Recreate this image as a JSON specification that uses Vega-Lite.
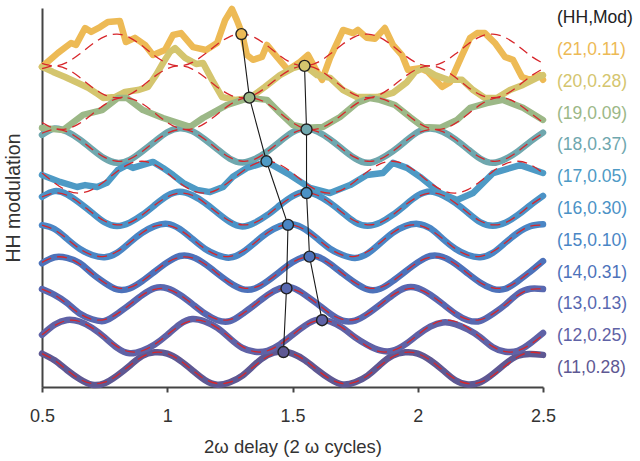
{
"$schema":"https://vega.github.io/schema/vega-lite/v6.json",
"width":501,"height":379,
"autosize":{"type":"none"},
"padding":{"left":42,"top":8,"right":97,"bottom":74},
"config":{"view":{"stroke":null},"font":"Liberation Sans"},
"datasets":{
"fit":[
{"x":0.50,"h11":0.45,"h12":1.04,"h13":2.48,"h14":3.32,"h15":4.49,"h16":5.38,"h17":6.13,"h18":7.38,"h19":7.72,"h20":9.41,"h21":9.58},
{"x":0.55,"h11":0.24,"h12":1.33,"h13":2.30,"h14":3.48,"h15":4.34,"h16":5.50,"h17":5.82,"h18":7.50,"h19":7.53,"h20":9.50,"h21":9.50},
{"x":0.60,"h11":-0.07,"h12":1.49,"h13":2.01,"h14":3.46,"h15":4.06,"h16":5.43,"h17":5.58,"h18":7.43,"h19":7.52,"h20":9.40,"h21":9.61},
{"x":0.65,"h11":-0.35,"h12":1.46,"h13":1.71,"h14":3.27,"h15":3.75,"h16":5.19,"h17":5.50,"h18":7.19,"h19":7.69,"h20":9.14,"h21":9.87},
{"x":0.70,"h11":-0.49,"h12":1.26,"h13":1.53,"h14":2.97,"h15":3.55,"h16":4.88,"h17":5.61,"h18":6.88,"h19":7.98,"h20":8.83,"h21":10.18},
{"x":0.75,"h11":-0.45,"h12":0.96,"h13":1.52,"h14":2.68,"h15":3.51,"h16":4.62,"h17":5.87,"h18":6.62,"h19":8.28,"h20":8.59,"h21":10.42},
{"x":0.80,"h11":-0.24,"h12":0.67,"h13":1.70,"h14":2.52,"h15":3.66,"h16":4.50,"h17":6.18,"h18":6.50,"h19":8.47,"h20":8.50,"h21":10.50},
{"x":0.85,"h11":0.07,"h12":0.51,"h13":1.99,"h14":2.53,"h15":3.94,"h16":4.57,"h17":6.42,"h18":6.57,"h19":8.48,"h20":8.60,"h21":10.39},
{"x":0.90,"h11":0.35,"h12":0.54,"h13":2.29,"h14":2.73,"h15":4.25,"h16":4.81,"h17":6.50,"h18":6.81,"h19":8.31,"h20":8.86,"h21":10.13},
{"x":0.95,"h11":0.49,"h12":0.74,"h13":2.47,"h14":3.03,"h15":4.46,"h16":5.12,"h17":6.39,"h18":7.12,"h19":8.02,"h20":9.17,"h21":9.82},
{"x":1.00,"h11":0.45,"h12":1.04,"h13":2.48,"h14":3.32,"h15":4.49,"h16":5.38,"h17":6.13,"h18":7.38,"h19":7.72,"h20":9.41,"h21":9.58},
{"x":1.05,"h11":0.24,"h12":1.33,"h13":2.30,"h14":3.48,"h15":4.34,"h16":5.50,"h17":5.82,"h18":7.50,"h19":7.53,"h20":9.50,"h21":9.50},
{"x":1.10,"h11":-0.07,"h12":1.49,"h13":2.01,"h14":3.46,"h15":4.06,"h16":5.43,"h17":5.58,"h18":7.43,"h19":7.52,"h20":9.40,"h21":9.61},
{"x":1.15,"h11":-0.35,"h12":1.46,"h13":1.71,"h14":3.27,"h15":3.75,"h16":5.19,"h17":5.50,"h18":7.19,"h19":7.69,"h20":9.14,"h21":9.87},
{"x":1.20,"h11":-0.49,"h12":1.26,"h13":1.53,"h14":2.97,"h15":3.55,"h16":4.88,"h17":5.61,"h18":6.88,"h19":7.98,"h20":8.83,"h21":10.18},
{"x":1.25,"h11":-0.45,"h12":0.96,"h13":1.52,"h14":2.68,"h15":3.51,"h16":4.62,"h17":5.87,"h18":6.62,"h19":8.28,"h20":8.59,"h21":10.42},
{"x":1.30,"h11":-0.24,"h12":0.67,"h13":1.70,"h14":2.52,"h15":3.66,"h16":4.50,"h17":6.18,"h18":6.50,"h19":8.47,"h20":8.50,"h21":10.50},
{"x":1.35,"h11":0.07,"h12":0.51,"h13":1.99,"h14":2.53,"h15":3.94,"h16":4.57,"h17":6.42,"h18":6.57,"h19":8.48,"h20":8.60,"h21":10.39},
{"x":1.40,"h11":0.35,"h12":0.54,"h13":2.29,"h14":2.73,"h15":4.25,"h16":4.81,"h17":6.50,"h18":6.81,"h19":8.31,"h20":8.86,"h21":10.13},
{"x":1.45,"h11":0.49,"h12":0.74,"h13":2.47,"h14":3.03,"h15":4.46,"h16":5.12,"h17":6.39,"h18":7.12,"h19":8.02,"h20":9.17,"h21":9.82},
{"x":1.50,"h11":0.45,"h12":1.04,"h13":2.48,"h14":3.32,"h15":4.49,"h16":5.38,"h17":6.13,"h18":7.38,"h19":7.72,"h20":9.41,"h21":9.58},
{"x":1.55,"h11":0.24,"h12":1.33,"h13":2.30,"h14":3.48,"h15":4.34,"h16":5.50,"h17":5.82,"h18":7.50,"h19":7.53,"h20":9.50,"h21":9.50},
{"x":1.60,"h11":-0.07,"h12":1.49,"h13":2.01,"h14":3.46,"h15":4.06,"h16":5.43,"h17":5.58,"h18":7.43,"h19":7.52,"h20":9.40,"h21":9.61},
{"x":1.65,"h11":-0.35,"h12":1.46,"h13":1.71,"h14":3.27,"h15":3.75,"h16":5.19,"h17":5.50,"h18":7.19,"h19":7.69,"h20":9.14,"h21":9.87},
{"x":1.70,"h11":-0.49,"h12":1.26,"h13":1.53,"h14":2.97,"h15":3.55,"h16":4.88,"h17":5.61,"h18":6.88,"h19":7.98,"h20":8.83,"h21":10.18},
{"x":1.75,"h11":-0.45,"h12":0.96,"h13":1.52,"h14":2.68,"h15":3.51,"h16":4.62,"h17":5.87,"h18":6.62,"h19":8.28,"h20":8.59,"h21":10.42},
{"x":1.80,"h11":-0.24,"h12":0.67,"h13":1.70,"h14":2.52,"h15":3.66,"h16":4.50,"h17":6.18,"h18":6.50,"h19":8.47,"h20":8.50,"h21":10.50},
{"x":1.85,"h11":0.07,"h12":0.51,"h13":1.99,"h14":2.53,"h15":3.94,"h16":4.57,"h17":6.42,"h18":6.57,"h19":8.48,"h20":8.60,"h21":10.39},
{"x":1.90,"h11":0.35,"h12":0.54,"h13":2.29,"h14":2.73,"h15":4.25,"h16":4.81,"h17":6.50,"h18":6.81,"h19":8.31,"h20":8.86,"h21":10.13},
{"x":1.95,"h11":0.49,"h12":0.74,"h13":2.47,"h14":3.03,"h15":4.46,"h16":5.12,"h17":6.39,"h18":7.12,"h19":8.02,"h20":9.17,"h21":9.82},
{"x":2.00,"h11":0.45,"h12":1.04,"h13":2.48,"h14":3.32,"h15":4.49,"h16":5.38,"h17":6.13,"h18":7.38,"h19":7.72,"h20":9.41,"h21":9.58},
{"x":2.05,"h11":0.24,"h12":1.33,"h13":2.30,"h14":3.48,"h15":4.34,"h16":5.50,"h17":5.82,"h18":7.50,"h19":7.53,"h20":9.50,"h21":9.50},
{"x":2.10,"h11":-0.07,"h12":1.49,"h13":2.01,"h14":3.46,"h15":4.06,"h16":5.43,"h17":5.58,"h18":7.43,"h19":7.52,"h20":9.40,"h21":9.61},
{"x":2.15,"h11":-0.35,"h12":1.46,"h13":1.71,"h14":3.27,"h15":3.75,"h16":5.19,"h17":5.50,"h18":7.19,"h19":7.69,"h20":9.14,"h21":9.87},
{"x":2.20,"h11":-0.49,"h12":1.26,"h13":1.53,"h14":2.97,"h15":3.55,"h16":4.88,"h17":5.61,"h18":6.88,"h19":7.98,"h20":8.83,"h21":10.18},
{"x":2.25,"h11":-0.45,"h12":0.96,"h13":1.52,"h14":2.68,"h15":3.51,"h16":4.62,"h17":5.87,"h18":6.62,"h19":8.28,"h20":8.59,"h21":10.42},
{"x":2.30,"h11":-0.24,"h12":0.67,"h13":1.70,"h14":2.52,"h15":3.66,"h16":4.50,"h17":6.18,"h18":6.50,"h19":8.47,"h20":8.50,"h21":10.50},
{"x":2.35,"h11":0.07,"h12":0.51,"h13":1.99,"h14":2.53,"h15":3.94,"h16":4.57,"h17":6.42,"h18":6.57,"h19":8.48,"h20":8.60,"h21":10.39},
{"x":2.40,"h11":0.35,"h12":0.54,"h13":2.29,"h14":2.73,"h15":4.25,"h16":4.81,"h17":6.50,"h18":6.81,"h19":8.31,"h20":8.86,"h21":10.13},
{"x":2.45,"h11":0.49,"h12":0.74,"h13":2.47,"h14":3.03,"h15":4.46,"h16":5.12,"h17":6.39,"h18":7.12,"h19":8.02,"h20":9.17,"h21":9.82},
{"x":2.50,"h11":0.45,"h12":1.04,"h13":2.48,"h14":3.32,"h15":4.49,"h16":5.38,"h17":6.13,"h18":7.38,"h19":7.72,"h20":9.41,"h21":9.58}
],
"obs":[
{"x":0.50,"h11":0.45,"h12":1.04,"h13":2.48,"h14":3.29,"h15":4.49,"h16":5.38,"h18":7.33},
{"x":0.55,"h11":0.24,"h12":1.36,"h13":2.30,"h14":3.48,"h15":4.37,"h16":5.56,"h18":7.53},
{"x":0.60,"h11":-0.07,"h12":1.51,"h13":2.04,"h14":3.46,"h15":4.06,"h16":5.46,"h18":7.43},
{"x":0.65,"h11":-0.35,"h12":1.46,"h13":1.71,"h14":3.30,"h15":3.75,"h16":5.19,"h18":7.19},
{"x":0.70,"h11":-0.53,"h12":1.26,"h13":1.53,"h14":2.97,"h15":3.55,"h16":4.88,"h18":6.88},
{"x":0.75,"h11":-0.48,"h12":0.96,"h13":1.48,"h14":2.68,"h15":3.48,"h16":4.58,"h18":6.59},
{"x":0.80,"h11":-0.24,"h12":0.63,"h13":1.70,"h14":2.47,"h15":3.62,"h16":4.46,"h18":6.45},
{"x":0.85,"h11":0.07,"h12":0.46,"h13":1.99,"h14":2.50,"h15":3.94,"h16":4.57,"h18":6.54},
{"x":0.90,"h11":0.38,"h12":0.54,"h13":2.29,"h14":2.73,"h15":4.25,"h16":4.81,"h18":6.81},
{"x":0.95,"h11":0.49,"h12":0.74,"h13":2.51,"h14":3.03,"h15":4.46,"h16":5.12,"h18":7.12},
{"x":1.00,"h11":0.45,"h12":1.04,"h13":2.50,"h14":3.32,"h15":4.53,"h16":5.41,"h18":7.41},
{"x":1.05,"h11":0.24,"h12":1.37,"h13":2.30,"h14":3.52,"h15":4.37,"h16":5.54,"h18":7.54},
{"x":1.10,"h11":-0.07,"h12":1.54,"h13":2.01,"h14":3.49,"h15":4.06,"h16":5.43,"h18":7.45},
{"x":1.15,"h11":-0.38,"h12":1.46,"h13":1.71,"h14":3.27,"h15":3.75,"h16":5.19,"h18":7.19},
{"x":1.20,"h11":-0.53,"h12":1.26,"h13":1.50,"h14":2.97,"h15":3.55,"h16":4.88,"h18":6.88},
{"x":1.25,"h11":-0.45,"h12":0.93,"h13":1.47,"h14":2.68,"h15":3.47,"h16":4.59,"h18":6.58},
{"x":1.30,"h11":-0.24,"h12":0.63,"h13":1.70,"h14":2.48,"h15":3.63,"h16":4.45,"h18":6.46},
{"x":1.35,"h11":0.11,"h12":0.51,"h13":1.99,"h14":2.50,"h15":3.94,"h16":4.57,"h18":6.57},
{"x":1.40,"h11":0.40,"h12":0.54,"h13":2.29,"h14":2.73,"h15":4.25,"h16":4.81,"h18":6.81},
{"x":1.45,"h11":0.52,"h12":0.74,"h13":2.50,"h14":3.03,"h15":4.46,"h16":5.12,"h18":7.12},
{"x":1.50,"h11":0.45,"h12":1.04,"h13":2.52,"h14":3.32,"h15":4.52,"h16":5.40,"h18":7.41},
{"x":1.55,"h11":0.24,"h12":1.33,"h13":2.30,"h14":3.50,"h15":4.36,"h16":5.53,"h18":7.54},
{"x":1.60,"h11":-0.07,"h12":1.52,"h13":2.01,"h14":3.50,"h15":4.06,"h16":5.43,"h18":7.43},
{"x":1.65,"h11":-0.35,"h12":1.46,"h13":1.71,"h14":3.27,"h15":3.75,"h16":5.19,"h18":7.19},
{"x":1.70,"h11":-0.52,"h12":1.26,"h13":1.49,"h14":2.97,"h15":3.55,"h16":4.88,"h18":6.88},
{"x":1.75,"h11":-0.45,"h12":0.96,"h13":1.49,"h14":2.68,"h15":3.46,"h16":4.58,"h18":6.59},
{"x":1.80,"h11":-0.24,"h12":0.72,"h13":1.70,"h14":2.47,"h15":3.60,"h16":4.47,"h18":6.45},
{"x":1.85,"h11":0.10,"h12":0.55,"h13":1.99,"h14":2.49,"h15":3.92,"h16":4.57,"h18":6.57},
{"x":1.90,"h11":0.39,"h12":0.54,"h13":2.29,"h14":2.73,"h15":4.25,"h16":4.81,"h18":6.81},
{"x":1.95,"h11":0.49,"h12":0.74,"h13":2.52,"h14":3.03,"h15":4.46,"h16":5.12,"h18":7.12},
{"x":2.00,"h11":0.45,"h12":1.04,"h13":2.51,"h14":3.32,"h15":4.53,"h16":5.42,"h18":7.42},
{"x":2.05,"h11":0.24,"h12":1.30,"h13":2.30,"h14":3.52,"h15":4.39,"h16":5.55,"h18":7.53},
{"x":2.10,"h11":-0.07,"h12":1.43,"h13":2.01,"h14":3.49,"h15":4.06,"h16":5.43,"h18":7.43},
{"x":2.15,"h11":-0.39,"h12":1.38,"h13":1.71,"h14":3.27,"h15":3.75,"h16":5.19,"h18":7.19},
{"x":2.20,"h11":-0.52,"h12":1.21,"h13":1.50,"h14":2.97,"h15":3.55,"h16":4.88,"h18":6.88},
{"x":2.25,"h11":-0.45,"h12":0.96,"h13":1.48,"h14":2.68,"h15":3.48,"h16":4.58,"h18":6.58},
{"x":2.30,"h11":-0.19,"h12":0.65,"h13":1.70,"h14":2.49,"h15":3.62,"h16":4.47,"h18":6.45},
{"x":2.35,"h11":0.13,"h12":0.51,"h13":1.99,"h14":2.49,"h15":3.94,"h16":4.57,"h18":6.57},
{"x":2.40,"h11":0.38,"h12":0.54,"h13":2.33,"h14":2.73,"h15":4.25,"h16":4.81,"h18":6.81},
{"x":2.45,"h11":0.44,"h12":0.78,"h13":2.49,"h14":3.03,"h15":4.46,"h16":5.12,"h18":7.12},
{"x":2.50,"h11":0.41,"h12":1.10,"h13":2.48,"h14":3.36,"h15":4.52,"h16":5.41,"h18":7.40}
],
"noisy":[
{"key":"h21","x":0.5,"value":9.47},{"key":"h21","x":0.564,"value":9.91},{"key":"h21","x":0.616,"value":10.22},{"key":"h21","x":0.636,"value":10.16},{"key":"h21","x":0.672,"value":10.69},{"key":"h21","x":0.696,"value":10.57},{"key":"h21","x":0.732,"value":10.72},{"key":"h21","x":0.763,"value":10.88},{"key":"h21","x":0.811,"value":10.91},{"key":"h21","x":0.835,"value":10.25},{"key":"h21","x":0.871,"value":10.38},{"key":"h21","x":0.911,"value":10.16},{"key":"h21","x":0.943,"value":9.84},{"key":"h21","x":0.991,"value":10.0},{"key":"h21","x":1.023,"value":10.47},{"key":"h21","x":1.055,"value":10.53},{"key":"h21","x":1.103,"value":10.09},{"key":"h21","x":1.155,"value":10.0},{"key":"h21","x":1.199,"value":10.22},{"key":"h21","x":1.231,"value":10.94},{"key":"h21","x":1.258,"value":11.29},{"key":"h21","x":1.278,"value":10.94},{"key":"h21","x":1.298,"value":10.53},{"key":"h21","x":1.318,"value":9.84},{"key":"h21","x":1.342,"value":9.69},{"key":"h21","x":1.378,"value":9.78},{"key":"h21","x":1.398,"value":10.16},{"key":"h21","x":1.438,"value":9.78},{"key":"h21","x":1.482,"value":9.37},{"key":"h21","x":1.53,"value":9.62},{"key":"h21","x":1.562,"value":9.84},{"key":"h21","x":1.59,"value":9.43},{"key":"h21","x":1.618,"value":9.06},{"key":"h21","x":1.65,"value":9.75},{"key":"h21","x":1.702,"value":10.63},{"key":"h21","x":1.742,"value":10.53},{"key":"h21","x":1.761,"value":10.63},{"key":"h21","x":1.797,"value":10.38},{"key":"h21","x":1.829,"value":10.35},{"key":"h21","x":1.869,"value":10.69},{"key":"h21","x":1.901,"value":10.16},{"key":"h21","x":1.937,"value":9.84},{"key":"h21","x":1.961,"value":9.37},{"key":"h21","x":2.009,"value":9.43},{"key":"h21","x":2.041,"value":9.31},{"key":"h21","x":2.097,"value":8.84},{"key":"h21","x":2.129,"value":8.99},{"key":"h21","x":2.177,"value":9.84},{"key":"h21","x":2.209,"value":10.38},{"key":"h21","x":2.237,"value":10.53},{"key":"h21","x":2.268,"value":10.53},{"key":"h21","x":2.308,"value":10.22},{"key":"h21","x":2.348,"value":9.78},{"key":"h21","x":2.38,"value":9.69},{"key":"h21","x":2.416,"value":9.15},{"key":"h21","x":2.448,"value":9.06},{"key":"h21","x":2.488,"value":9.21},{"key":"h21","x":2.5,"value":9.06},
{"key":"h20","x":0.5,"value":9.47},{"key":"h20","x":0.544,"value":9.31},{"key":"h20","x":0.592,"value":9.15},{"key":"h20","x":0.644,"value":8.96},{"key":"h20","x":0.684,"value":8.81},{"key":"h20","x":0.716,"value":8.65},{"key":"h20","x":0.744,"value":8.49},{"key":"h20","x":0.791,"value":8.52},{"key":"h20","x":0.831,"value":8.68},{"key":"h20","x":0.883,"value":8.74},{"key":"h20","x":0.923,"value":8.84},{"key":"h20","x":0.955,"value":9.21},{"key":"h20","x":0.983,"value":9.59},{"key":"h20","x":1.011,"value":9.94},{"key":"h20","x":1.031,"value":10.06},{"key":"h20","x":1.071,"value":9.75},{"key":"h20","x":1.115,"value":9.56},{"key":"h20","x":1.143,"value":9.59},{"key":"h20","x":1.179,"value":9.06},{"key":"h20","x":1.219,"value":8.52},{"key":"h20","x":1.27,"value":8.43},{"key":"h20","x":1.33,"value":8.49},{"key":"h20","x":1.39,"value":8.84},{"key":"h20","x":1.45,"value":9.21},{"key":"h20","x":1.502,"value":9.43},{"key":"h20","x":1.546,"value":9.53},{"key":"h20","x":1.598,"value":9.21},{"key":"h20","x":1.65,"value":9.12},{"key":"h20","x":1.702,"value":8.74},{"key":"h20","x":1.757,"value":8.52},{"key":"h20","x":1.809,"value":8.52},{"key":"h20","x":1.837,"value":8.52},{"key":"h20","x":1.901,"value":8.65},{"key":"h20","x":1.957,"value":8.99},{"key":"h20","x":1.989,"value":9.31},{"key":"h20","x":2.021,"value":9.43},{"key":"h20","x":2.069,"value":9.21},{"key":"h20","x":2.121,"value":9.06},{"key":"h20","x":2.177,"value":9.06},{"key":"h20","x":2.221,"value":8.74},{"key":"h20","x":2.268,"value":8.49},{"key":"h20","x":2.316,"value":8.49},{"key":"h20","x":2.368,"value":8.74},{"key":"h20","x":2.42,"value":8.9},{"key":"h20","x":2.476,"value":9.12},{"key":"h20","x":2.5,"value":9.21},
{"key":"h19","x":0.5,"value":7.55},{"key":"h19","x":0.584,"value":7.48},{"key":"h19","x":0.664,"value":7.96},{"key":"h19","x":0.74,"value":8.11},{"key":"h19","x":0.803,"value":8.49},{"key":"h19","x":0.839,"value":8.49},{"key":"h19","x":0.903,"value":8.11},{"key":"h19","x":0.983,"value":7.86},{"key":"h19","x":1.091,"value":7.58},{"key":"h19","x":1.143,"value":7.86},{"key":"h19","x":1.239,"value":8.27},{"key":"h19","x":1.302,"value":8.43},{"key":"h19","x":1.33,"value":8.49},{"key":"h19","x":1.398,"value":8.43},{"key":"h19","x":1.45,"value":8.02},{"key":"h19","x":1.502,"value":7.64},{"key":"h19","x":1.558,"value":7.55},{"key":"h19","x":1.622,"value":7.58},{"key":"h19","x":1.69,"value":7.89},{"key":"h19","x":1.757,"value":8.33},{"key":"h19","x":1.809,"value":8.49},{"key":"h19","x":1.849,"value":8.43},{"key":"h19","x":1.909,"value":8.27},{"key":"h19","x":1.969,"value":7.89},{"key":"h19","x":2.021,"value":7.58},{"key":"h19","x":2.089,"value":7.55},{"key":"h19","x":2.157,"value":7.8},{"key":"h19","x":2.209,"value":8.18},{"key":"h19","x":2.276,"value":8.33},{"key":"h19","x":2.34,"value":8.43},{"key":"h19","x":2.42,"value":8.18},{"key":"h19","x":2.5,"value":7.8},
{"key":"h17","x":0.5,"value":6.07},{"key":"h17","x":0.572,"value":5.85},{"key":"h17","x":0.64,"value":5.69},{"key":"h17","x":0.672,"value":5.75},{"key":"h17","x":0.72,"value":5.69},{"key":"h17","x":0.759,"value":5.82},{"key":"h17","x":0.803,"value":6.23},{"key":"h17","x":0.839,"value":6.38},{"key":"h17","x":0.863,"value":6.29},{"key":"h17","x":0.899,"value":6.38},{"key":"h17","x":0.943,"value":6.48},{"key":"h17","x":0.983,"value":6.29},{"key":"h17","x":1.023,"value":6.07},{"key":"h17","x":1.063,"value":5.82},{"key":"h17","x":1.119,"value":5.6},{"key":"h17","x":1.171,"value":5.53},{"key":"h17","x":1.223,"value":5.69},{"key":"h17","x":1.262,"value":6.01},{"key":"h17","x":1.318,"value":6.29},{"key":"h17","x":1.398,"value":6.48},{"key":"h17","x":1.49,"value":6.07},{"key":"h17","x":1.57,"value":5.66},{"key":"h17","x":1.65,"value":5.5},{"key":"h17","x":1.73,"value":5.75},{"key":"h17","x":1.797,"value":6.07},{"key":"h17","x":1.861,"value":6.13},{"key":"h17","x":1.901,"value":6.45},{"key":"h17","x":1.957,"value":6.29},{"key":"h17","x":2.009,"value":6.01},{"key":"h17","x":2.089,"value":5.5},{"key":"h17","x":2.157,"value":5.28},{"key":"h17","x":2.221,"value":5.5},{"key":"h17","x":2.301,"value":6.13},{"key":"h17","x":2.409,"value":6.38},{"key":"h17","x":2.5,"value":6.13}
],
"peaks":[
{"key":"h21","chain":"odd","x":1.296,"value":10.5},{"key":"h19","chain":"odd","x":1.328,"value":8.5},{"key":"h17","chain":"odd","x":1.396,"value":6.5},{"key":"h15","chain":"odd","x":1.482,"value":4.5},{"key":"h13","chain":"odd","x":1.476,"value":2.5},{"key":"h11","chain":"odd","x":1.464,"value":0.5},
{"key":"h20","chain":"even","x":1.548,"value":9.5},{"key":"h18","chain":"even","x":1.556,"value":7.5},{"key":"h16","chain":"even","x":1.556,"value":5.5},{"key":"h14","chain":"even","x":1.568,"value":3.5},{"key":"h12","chain":"even","x":1.618,"value":1.5}
],
"labels":[
{"key":"h21","x":2.556,"value":10,"t":"(21,0.11)"},{"key":"h20","x":2.556,"value":9,"t":"(20,0.28)"},{"key":"h19","x":2.556,"value":8,"t":"(19,0.09)"},{"key":"h18","x":2.556,"value":7,"t":"(18,0.37)"},{"key":"h17","x":2.556,"value":6,"t":"(17,0.05)"},{"key":"h16","x":2.556,"value":5,"t":"(16,0.30)"},{"key":"h15","x":2.556,"value":4,"t":"(15,0.10)"},{"key":"h14","x":2.556,"value":3,"t":"(14,0.31)"},{"key":"h13","x":2.556,"value":2,"t":"(13,0.13)"},{"key":"h12","x":2.556,"value":1,"t":"(12,0.25)"},{"key":"h11","x":2.556,"value":0,"t":"(11,0.28)"}
],
"header":[{"x":2.556,"value":11,"t":"(HH,Mod)"}]
},
"encoding":{
"x":{"field":"x","type":"quantitative","scale":{"domain":[0.5,2.5],"nice":false,"zero":false},
"axis":{"title":"2ω delay (2 ω cycles)","values":[0.5,1,1.5,2,2.5],"format":"~g","grid":false,"domainColor":"#444444","domainWidth":2,"tickColor":"#444444","tickWidth":2,"tickSize":5,"labelFontSize":18,"labelColor":"#333333","labelPadding":15,"labelFlush":false,"titleFontSize":18.5,"titleColor":"#333333","titleFontWeight":"normal","titlePadding":12}},
"y":{"field":"value","type":"quantitative","scale":{"domain":[-0.6,11.32],"nice":false,"zero":false},
"axis":{"title":"HH modulation","ticks":false,"labels":false,"grid":false,"domainColor":"#444444","domainWidth":2,"titleFontSize":19.5,"titleColor":"#333333","titleFontWeight":"normal","titlePadding":19}}
},
"layer":[
{"data":{"name":"obs"},"transform":[{"fold":["h11","h12","h13","h14","h15","h16","h18"]}],
"mark":{"type":"line","interpolate":"natural","strokeWidth":6.5,"strokeCap":"round","strokeJoin":"round"},
"encoding":{"color":{"field":"key","type":"nominal","legend":null,"scale":{"domain":["h11","h12","h13","h14","h15","h16","h17","h18","h19","h20","h21"],"range":["#5E5893","#5F62A6","#5868B0","#4D72BA","#4A86C5","#4B92C6","#4E9AC5","#6FA7AE","#9CB887","#D4C56E","#EDBA55"]}}}},
{"data":{"name":"noisy"},
"mark":{"type":"line","strokeWidth":6.5,"strokeCap":"round","strokeJoin":"round"},
"encoding":{"color":{"field":"key","type":"nominal","legend":null}}},
{"data":{"name":"fit"},"transform":[{"fold":["h11","h12","h13","h14","h15","h16","h17","h18","h19","h20","h21"]}],
"mark":{"type":"line","interpolate":"natural","stroke":"#D7262B","strokeWidth":1.3,"strokeDash":[10,6]},
"encoding":{"detail":{"field":"key","type":"nominal"}}},
{"data":{"name":"peaks"},
"mark":{"type":"line","stroke":"#1a1a1a","strokeWidth":1.1},
"encoding":{"detail":{"field":"chain","type":"nominal"},"order":{"field":"value","type":"quantitative"}}},
{"data":{"name":"peaks"},
"mark":{"type":"circle","size":120,"opacity":1,"stroke":"#222222","strokeWidth":1.4},
"encoding":{"color":{"field":"key","type":"nominal","legend":null}}},
{"data":{"name":"labels"},
"mark":{"type":"text","align":"left","baseline":"middle","fontSize":17.5,"clip":false},
"encoding":{"text":{"field":"t"},"color":{"field":"key","type":"nominal","legend":null}}},
{"data":{"name":"header"},
"mark":{"type":"text","align":"left","baseline":"middle","fontSize":17.5,"color":"#222222","clip":false},
"encoding":{"text":{"field":"t"}}}
]
}
